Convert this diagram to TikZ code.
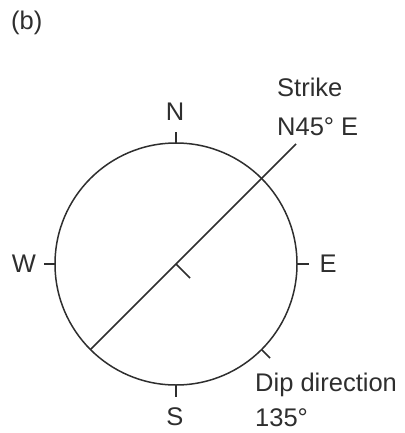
\documentclass[tikz,border=0pt]{standalone}
\usepackage{fontspec}
\setmainfont{Liberation Sans}
\usetikzlibrary{calc}
\definecolor{ink}{HTML}{2E2E2E}
\begin{document}
\begin{tikzpicture}[x=1pt,y=-1pt,
  geo/.style={draw=ink,line width=1.5pt},
  lbl/.style={text=ink,inner sep=0pt,font=\fontsize{25.5}{30}\selectfont}]
\useasboundingbox (0,0) rectangle (404,433);
\coordinate (c) at (176,264);
\coordinate (nA) at (176,143); \coordinate (nB) at (176,132);
\coordinate (sA) at (176,385); \coordinate (sB) at (176,397);
\coordinate (wA) at (55,264); \coordinate (wB) at (44,264);
\coordinate (eA) at (297,264); \coordinate (eB) at (309,264);
\coordinate (st1) at ($(c)+(-85.6,85.6)$);
\coordinate (st2) at ($(c)+(120,-120)$);
\coordinate (ct) at ($(c)+(14,14)$);
\coordinate (dA) at ($(c)+(85.6,85.6)$);
\coordinate (dB) at ($(c)+(94,94)$);
\draw[geo] (c) circle[radius=121];
\draw[geo] (nA) -- (nB);
\draw[geo] (sA) -- (sB);
\draw[geo] (wA) -- (wB);
\draw[geo] (eA) -- (eB);
\draw[geo] (st1) -- (st2);
\draw[geo] (c) -- (ct);
\draw[geo] (dA) -- (dB);
\node[lbl,anchor=base west] (b) at (11,30) {(b)};
\node[lbl,anchor=base] (N) at (175,120.5) {N};
\node[lbl,anchor=base] (S) at (175,425) {S};
\node[lbl,anchor=base] (W) at (24,272) {W};
\node[lbl,anchor=base] (E) at (328,272) {E};
\node[lbl,anchor=base west] (strike) at (277,96.5) {Strike};
\node[lbl,anchor=base west] (strikeval) at (277,135) {N45° E};
\node[lbl,anchor=base west] (dip) at (255,391) {Dip direction};
\node[lbl,anchor=base west] (dipval) at (255,426) {135°};
\end{tikzpicture}
\end{document}
